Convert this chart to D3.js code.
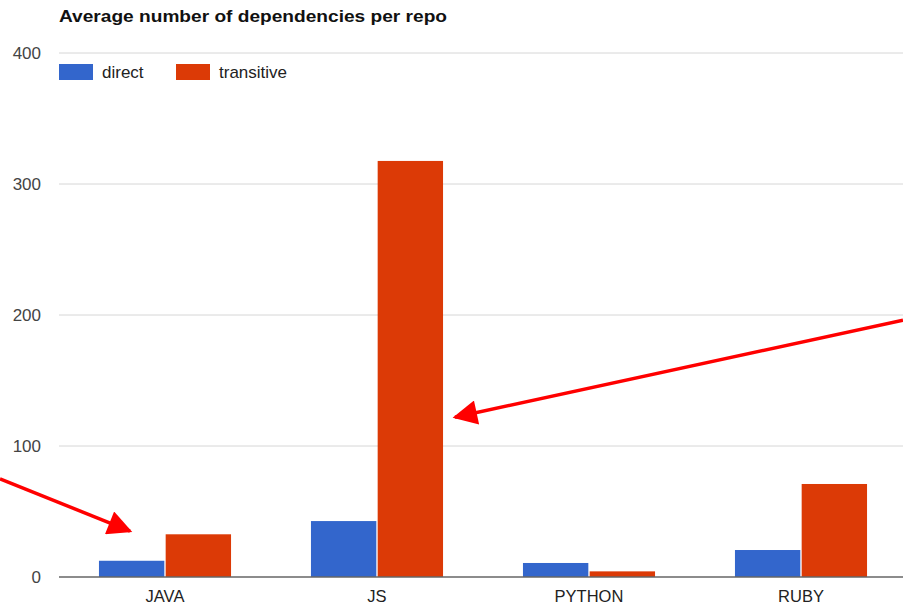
<!DOCTYPE html>
<html>
<head>
<script src="https://d3js.org/d3.v7.min.js"></script>
<style>
body { margin: 0; background: #fff; }
text { font-family: "Liberation Sans", Arial, sans-serif; }
</style>
</head>
<body>
<svg id="chart" width="903" height="606"></svg>
<script>
// values
const languages = ["JAVA", "JS", "PYTHON", "RUBY"];
const seriesNames = ["direct", "transitive"];
const direct = [12.4, 42.7, 10.7, 20.6];
const transitive = [32.6, 317.6, 4.3, 71];
const yTicks = [0, 100, 200, 300, 400];
const colors = ["#3366cc", "#dc3a06"];

const svg = d3.select("#chart");
const plotLeft = 59, plotRight = 907, plotTop = 53, plotBottom = 577;

const x0 = d3.scaleBand().domain(languages).range([plotLeft, plotRight]).padding(0);
const groupW = x0.bandwidth() * 0.623;
const x1 = d3.scaleBand().domain(seriesNames).range([0, groupW]).paddingInner(0.02);
const y = d3.scaleLinear().domain([0, 400]).range([plotBottom, plotTop]);

// grid
svg.append("g").selectAll("line").data(yTicks.filter(d => d > 0)).join("line")
  .attr("x1", plotLeft).attr("x2", 903)
  .attr("y1", d => y(d)).attr("y2", d => y(d))
  .attr("stroke", "#d6d6d6").attr("stroke-width", 1);

// y labels
svg.append("g").selectAll("text").data(yTicks).join("text")
  .attr("x", 41).attr("y", d => y(d)).attr("dy", "0.35em")
  .attr("text-anchor", "end").attr("font-size", 17).attr("fill", "#444")
  .text(d => d);

// bars
const rows = languages.map((l, i) => ({lang: l, vals: [direct[i], transitive[i]]}));
const groups = svg.append("g").selectAll("g").data(rows).join("g")
  .attr("transform", d => `translate(${x0(d.lang) + (x0.bandwidth() - groupW) / 2},0)`);
groups.selectAll("rect").data(d => d.vals.map((v, k) => ({k, v}))).join("rect")
  .attr("x", d => x1(seriesNames[d.k]))
  .attr("width", x1.bandwidth())
  .attr("y", d => y(d.v))
  .attr("height", d => y(0) - y(d.v))
  .attr("fill", d => colors[d.k]);

// baseline
svg.append("line").attr("x1", plotLeft).attr("x2", 903)
  .attr("y1", y(0)).attr("y2", y(0)).attr("stroke", "#666").attr("stroke-width", 1.5);

// category labels
svg.append("g").selectAll("text").data(languages).join("text")
  .attr("x", d => x0(d) + x0.bandwidth() / 2).attr("y", 602)
  .attr("text-anchor", "middle").attr("font-size", 16.5).attr("fill", "#222")
  .text(d => d);

// title
svg.append("text").attr("x", plotLeft).attr("y", 22)
  .attr("font-size", 17).attr("font-weight", "bold").attr("fill", "#111")
  .attr("textLength", 388).attr("lengthAdjust", "spacingAndGlyphs")
  .text("Average number of dependencies per repo");

// legend
const legendX = [59, 176];
const lg = svg.append("g").selectAll("g").data(seriesNames).join("g")
  .attr("transform", (d, i) => `translate(${legendX[i]},64)`);
lg.append("rect").attr("width", 34).attr("height", 16).attr("fill", (d, i) => colors[i]);
lg.append("text").attr("x", 43).attr("y", 8).attr("dy", "0.35em")
  .attr("font-size", 17).attr("fill", "#222").text(d => d);

// red annotation arrows
svg.append("defs").append("marker")
  .attr("id", "head").attr("viewBox", "0 0 10 10")
  .attr("refX", 9).attr("refY", 5)
  .attr("markerWidth", 7.5).attr("markerHeight", 7)
  .attr("markerUnits", "strokeWidth")
  .attr("orient", "auto")
  .append("path").attr("d", "M0,0 L10,5 L0,10 Z").attr("fill", "#f00");

const arrows = [
  {x1: 0, y1: y(75), x2: x0("JAVA") + 71, y2: y(35)},
  {x1: 903, y1: y(196), x2: x0("JS") + 184, y2: y(122)}
];
svg.append("g").selectAll("line").data(arrows).join("line")
  .attr("x1", d => d.x1).attr("y1", d => d.y1)
  .attr("x2", d => d.x2).attr("y2", d => d.y2)
  .attr("stroke", "#f00").attr("stroke-width", 3.5)
  .attr("marker-end", "url(#head)");
</script>
</body>
</html>
